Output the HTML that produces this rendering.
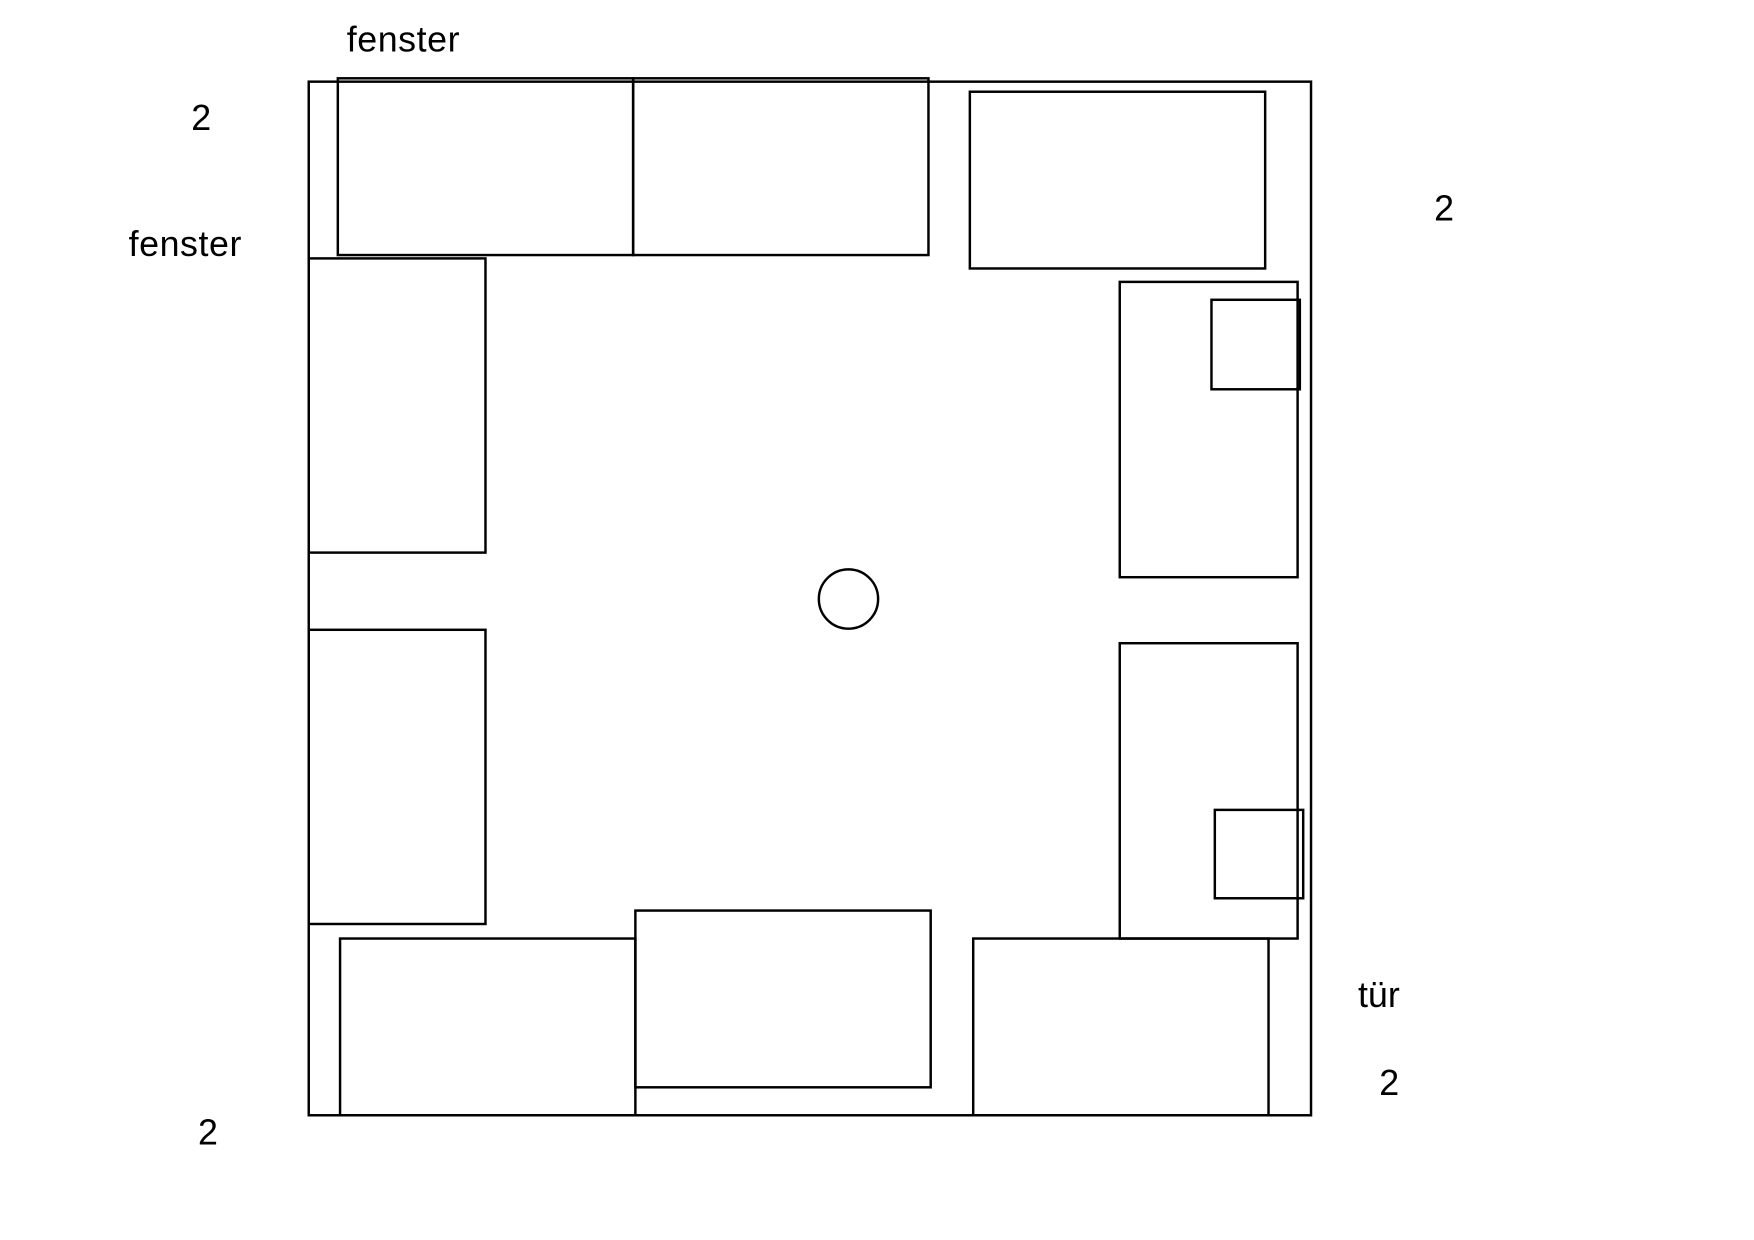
<!DOCTYPE html>
<html><head><meta charset="utf-8"><style>
html,body{margin:0;padding:0;background:#fff;}
svg{display:block;}
text{font-family:"Liberation Sans",sans-serif;fill:#000;}
</style></head><body>
<svg width="1754" height="1240" viewBox="0 0 1568 1108.5" xmlns="http://www.w3.org/2000/svg" preserveAspectRatio="none">
<g fill="none" stroke="#000" stroke-width="2.2">
<rect x="276" y="73" width="896" height="924"/>
<rect x="302" y="70" width="264" height="158"/>
<rect x="566" y="70" width="264" height="158"/>
<rect x="867" y="82" width="264" height="158"/>
<rect x="276" y="231" width="158" height="263"/>
<rect x="276" y="563" width="158" height="263"/>
<rect x="1001" y="252" width="159" height="264"/>
<rect x="1083" y="268" width="79" height="80"/>
<rect x="1001" y="575" width="159" height="264"/>
<rect x="1086" y="724" width="79" height="79"/>
<rect x="304" y="839" width="264" height="158"/>
<rect x="568" y="814" width="264" height="158"/>
<rect x="870" y="839" width="264" height="158"/>
<circle cx="758.5" cy="535.5" r="26.5"/>
</g>
<text x="310" y="46" font-size="32" letter-spacing="0.5">fenster</text>
<text x="115" y="229" font-size="32" letter-spacing="0.5">fenster</text>
<text x="1214" y="900" font-size="32">tür</text>
<text x="171" y="116" font-size="32">2</text>
<text x="1282" y="197" font-size="32">2</text>
<text x="1233" y="979" font-size="32">2</text>
<text x="177" y="1023" font-size="32">2</text>
</svg>
</body></html>
